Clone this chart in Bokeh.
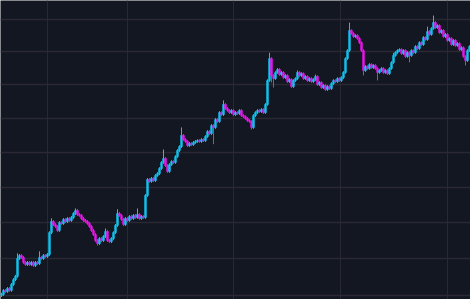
from bokeh.plotting import figure
from bokeh.models import Range1d, FixedTicker, ColumnDataSource
from bokeh.embed import file_html
from bokeh.resources import INLINE

# Closing prices, one per candle (log price scale)
close = [
    53030, 53135, 53110, 53190, 53140, 53300, 53430, 53520, 54010, 54090,
    54035, 53900, 53845, 53900, 53845, 53900, 53815, 53900, 53870, 54035,
    54010, 54090, 54065, 54120, 54725, 55035, 54950, 54895, 54785, 55005,
    54980, 55090, 55035, 55120, 55065, 55150, 55260, 55344, 55230, 55205,
    55120, 55065, 55035, 54980, 54895, 54785, 54670, 54505, 54420, 54560,
    54505, 54615, 54755, 54505, 54475, 54560, 54725, 54925, 55260, 55205,
    55090, 54950, 55120, 55065, 55175, 55120, 55205, 55150, 55230, 55120,
    55175, 55150, 55770, 56225, 56170, 56255, 56195, 56340, 56395, 56540,
    56715, 56830, 56625, 56455, 56655, 56740, 56715, 56885, 57061, 57175,
    57500, 57380, 57325, 57205, 57265, 57235, 57295, 57325, 57350, 57325,
    57380, 57350, 57470, 57615, 57555, 57790, 57735, 57970, 57910, 58175,
    58115, 58415, 58295, 58235, 58175, 58235, 58115, 58175, 58145, 58235,
    58085, 58055, 58000, 57940, 57910, 57735, 58085, 58175, 58235, 58205,
    58265, 58175, 58415, 59131, 59795, 59280, 59190, 59375, 59465, 59310,
    59375, 59220, 59280, 59100, 59160, 58950, 59130, 59190, 59375, 59280,
    59340, 59190, 59250, 59130, 59190, 59100, 59160, 59250, 59010, 59070,
    58920, 58980, 58860, 58950, 58890, 59040, 59130, 59100, 59190, 59130,
    59220, 59375, 59795, 60040, 60655, 60565, 60470, 60500, 60410, 60285,
    60040, 59433, 59555, 59495, 59615, 59525, 59585, 59495, 59375, 59433,
    59495, 59375, 59433, 59340, 59495, 59675, 59890, 59980, 60040, 60070,
    59950, 60040, 59860, 59980, 59890, 60040, 59980, 60165, 60100, 60285,
    60225, 60440, 60380, 60625, 60535, 60720, 60905, 60750, 60810, 60595,
    60655, 60470, 60535, 60350, 60410, 60225, 60350, 60195, 60255, 60070,
    60130, 59860, 59735, 60040, 60165,
]
first_open = 53000

# Upper / lower wick lengths beyond the candle body (price units)
wick_up = [40] * len(close)
wick_dn = [40] * len(close)
for i, w in {8: 140, 19: 170, 25: 90, 37: 60, 52: 85, 58: 120, 68: 170,
             81: 260, 90: 235, 111: 120, 134: 180, 148: 60, 157: 60,
             174: 245, 196: 80, 213: 150, 216: 215}.items():
    wick_up[i] = w
for i, w in {48: 55, 106: 490, 125: 60, 135: 210, 136: 270, 181: 150,
             188: 240, 204: 210, 232: 150}.items():
    wick_dn[i] = w

# Gridline positions (candle index units) and price gridlines
x_grid = [22.75, 62.75, 116, 169.5, 222.75]
y_grid = [53000, 54000, 55000, 56000, 57000, 58000, 59000, 60000, 61000]

UP = "#10c4f0"
DOWN = "#f012f0"

opens = [first_open] + close[:-1]
idx = list(range(len(close)))
top = [max(o, c) for o, c in zip(opens, close)]
bot = [min(o, c) for o, c in zip(opens, close)]
high = [t + w for t, w in zip(top, wick_up)]
low = [b - w for b, w in zip(bot, wick_dn)]
colors = [UP if c >= o else DOWN for o, c in zip(opens, close)]

src = ColumnDataSource(dict(x=idx, top=top, bot=bot, high=high, low=low, color=colors))

p = figure(width=470, height=299, y_axis_type="log",
           x_range=Range1d(-0.5, len(close) - 0.5),
           y_range=Range1d(52892, 61591),
           output_backend="svg", toolbar_location=None, min_border=0)
p.background_fill_color = "#131722"
p.border_fill_color = "#131722"
p.outline_line_color = None
p.xaxis.visible = False
p.yaxis.visible = False
p.xgrid.ticker = FixedTicker(ticks=x_grid)
p.ygrid.ticker = FixedTicker(ticks=y_grid)
for g in (p.xgrid, p.ygrid):
    g.grid_line_color = "#2a2833"
    g.grid_line_width = 1
p.ygrid.grid_line_width = 1.6

p.segment(x0="x", x1="x", y0="low", y1="high", color="color", line_width=1, source=src)
p.vbar(x="x", width=0.9, top="top", bottom="bot", fill_color="color",
       line_color="color", line_width=0.6, source=src)

open("out.html", "w").write(file_html(p, INLINE))
